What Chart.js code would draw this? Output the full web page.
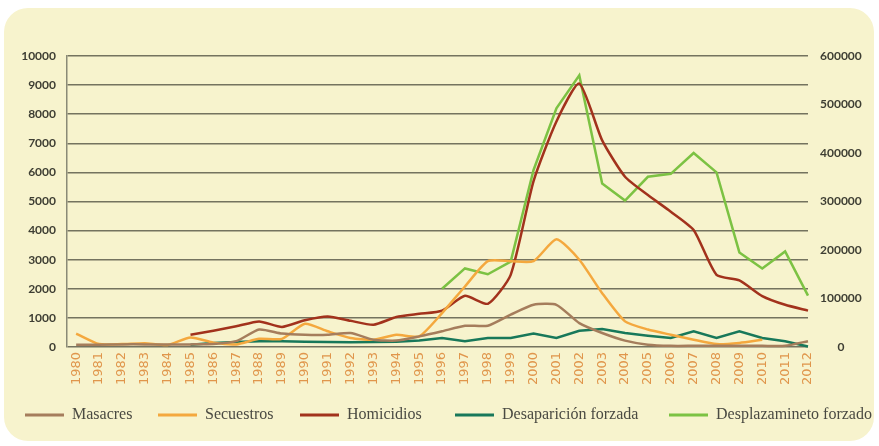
<!DOCTYPE html>
<html>
<head>
<meta charset="utf-8">
<script src="https://cdn.jsdelivr.net/npm/chart.js@4"></script>
<style>
  html, body { margin: 0; padding: 0; background: #ffffff; }
  #wrap { position: relative; width: 879px; height: 446px; overflow: hidden; }
  #panel { position: absolute; left: 4px; top: 8px; width: 870px; height: 433px; background: #f7f3cd; border-radius: 24px; }
  #chart { position: absolute; left: 0; top: 0; }
</style>
</head>
<body>
<div id="wrap">
  <div id="panel"></div>
  <canvas id="chart" width="879" height="446"></canvas>
</div>
<script>
// Años y series
const years = [1980,1981,1982,1983,1984,1985,1986,1987,1988,1989,1990,1991,1992,1993,1994,1995,1996,
  1997,1998,1999,2000,2001,2002,2003,2004,2005,2006,2007,2008,2009,2010,2011,2012];

const masacres = [80,80,90,90,90,90,100,200,600,460,420,420,480,250,220,365,540,
  730,730,1110,1450,1450,820,480,220,80,40,40,40,40,40,40,200];

const secuestros = [460,100,100,130,70,330,150,90,280,280,800,540,310,250,420,365,1165,
  2080,2950,2950,2950,3700,3000,1850,880,600,420,250,100,140,250,null,null];

const homicidios = [null,null,null,null,null,420,560,710,880,690,920,1050,900,765,1030,1140,1245,
  1760,1485,2480,5700,7750,9050,7100,5850,5220,4650,4020,2480,2290,1750,1450,1250];

const desaparicion = [null,null,null,null,null,80,140,170,195,195,180,170,160,170,180,220,310,
  195,310,310,460,310,560,620,480,390,310,540,310,540,310,195,20];

const desplazamiento = [null,null,null,null,null,null,null,null,null,null,null,null,null,null,null,null,120000,
  162000,150000,176000,365000,492000,560000,337000,302000,351000,357000,400000,360000,195000,162000,197000,106000];

const leftTicks = [0,1000,2000,3000,4000,5000,6000,7000,8000,9000,10000];
const rightTicks = [0,100000,200000,300000,400000,500000,600000];

// posición de cada entrada de la leyenda (inicio de la línea)
const legendX = [25, 158, 300, 455, 669];

function pts(arr) {
    return years.map((y, i) => ({ x: y, y: arr[i] }));
}

function serie(label, arr, color, axis, tension) {
    return {
        label: label,
        data: pts(arr),
        borderColor: color,
        backgroundColor: color,
        borderWidth: 2.5,
        pointRadius: 0,
        tension: tension,
        yAxisID: axis,
        clip: 4
    };
}

// Leyenda dibujada en el canvas, una fila bajo los años
const legendPlugin = {
    id: 'filaLeyenda',
    afterDraw(chart) {
        const c = chart.ctx;
        const y = 415;
        c.save();
        c.font = '16px "Liberation Serif", serif';
        c.textBaseline = 'middle';
        c.textAlign = 'left';
        chart.data.datasets.forEach((ds, i) => {
            const x = legendX[i];
            c.strokeStyle = ds.borderColor;
            c.lineWidth = 3;
            c.beginPath();
            c.moveTo(x, y);
            c.lineTo(x + 39, y);
            c.stroke();
            c.fillStyle = '#4a4a42';
            c.fillText(ds.label, x + 47, y);
        });
        c.restore();
    }
};

const ctx = document.getElementById('chart').getContext('2d');
new Chart(ctx, {
    type: 'line',
    data: {
        datasets: [
            serie('Masacres', masacres, '#a57d5c', 'y', 0.2),
            serie('Secuestros', secuestros, '#f4a83e', 'y', 0.2),
            serie('Homicidios', homicidios, '#a2321c', 'y', 0.2),
            serie('Desaparición forzada', desaparicion, '#18785a', 'y', 0),
            serie('Desplazamineto forzado', desplazamiento, '#7cc243', 'y2', 0)
        ]
    },
    plugins: [legendPlugin],
    options: {
        responsive: false,
        animation: false,
        spanGaps: false,
        layout: { padding: { top: 56, left: 0, right: 0, bottom: 55 } },
        plugins: {
            tooltip: { enabled: false },
            legend: { display: false }
        },
        scales: {
            x: {
                type: 'linear',
                min: 1979.6,
                max: 2012,
                afterBuildTicks: axis => { axis.ticks = years.map(v => ({ value: v })); },
                afterFit: axis => { axis.height = 44; },
                grid: { display: false, drawTicks: false },
                border: { display: false },
                ticks: {
                    autoSkip: false,
                    minRotation: 90,
                    maxRotation: 90,
                    padding: 5,
                    color: '#e0964c',
                    font: { family: '"DejaVu Sans", sans-serif', size: 13 },
                    callback: v => String(v)
                }
            },
            y: {
                position: 'left',
                min: 0,
                max: 10000,
                afterBuildTicks: axis => { axis.ticks = leftTicks.map(v => ({ value: v })); },
                afterFit: axis => { axis.width = 67; },
                grid: { color: '#74735f', lineWidth: 1.5, drawTicks: false },
                border: { display: true, color: '#8a8a76', width: 1.5 },
                ticks: {
                    padding: 11,
                    color: '#3e3e33',
                    font: { family: 'Lato, sans-serif', size: 12, weight: 'bold' },
                    callback: v => String(v)
                }
            },
            y2: {
                position: 'right',
                min: 0,
                max: 600000,
                afterBuildTicks: axis => { axis.ticks = rightTicks.map(v => ({ value: v })); },
                afterFit: axis => { axis.width = 71; },
                grid: { display: false, drawTicks: false },
                border: { display: false },
                ticks: {
                    padding: 12,
                    crossAlign: 'center',
                    color: '#3e3e33',
                    font: { family: 'Lato, sans-serif', size: 12, weight: 'bold' },
                    callback: v => String(v)
                }
            }
        }
    }
});
</script>
</body>
</html>
